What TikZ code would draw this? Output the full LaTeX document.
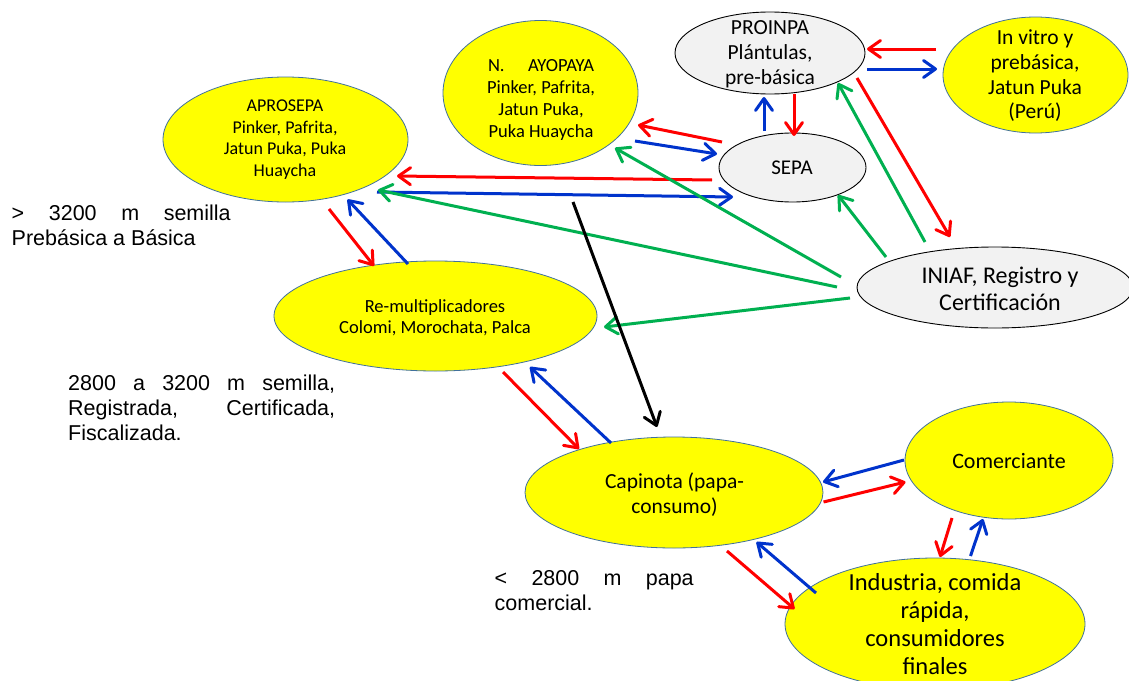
\documentclass[tikz,border=0pt]{standalone}
\usepackage{fontspec}
\setmainfont{Carlito}
\newfontfamily\arialf{Liberation Sans}
\usetikzlibrary{shapes.geometric,arrows.meta,calc}
\definecolor{yel}{RGB}{255,255,0}
\definecolor{edgeb}{RGB}{65,113,156}
\definecolor{grayf}{RGB}{242,242,242}
\definecolor{rd}{RGB}{255,0,0}
\definecolor{bl}{RGB}{0,51,204}
\definecolor{gr}{RGB}{0,176,80}
\tikzset{
  yell/.style={ellipse,draw=edgeb,line width=0.8pt,fill=yel,inner sep=0pt},
  grayell/.style={ellipse,draw=black,line width=0.9pt,fill=grayf,inner sep=0pt},
  lbl/.style={align=center,inner sep=0pt,text=black},
  side/.style={align=left,inner sep=0pt,anchor=west,text=black,font=\arialf\fontsize{21.5}{25}\selectfont},
  arr/.style={line width=3pt,-{Straight Barb[length=12pt,width=17pt,round]}},
  ra/.style={arr,draw=rd},
  ba/.style={arr,draw=bl},
  ga/.style={arr,draw=gr},
  ka/.style={arr,draw=black},
}
\newcommand{\fs}[2]{\fontsize{#1}{#2}\selectfont}
\begin{document}
\begin{tikzpicture}[x=1pt,y=-1pt]
\useasboundingbox (0,0) rectangle (1129,680);
\fill[white] (0,0) rectangle (1129,680);
\clip (0,0) rectangle (1129,680);

% ellipses
\node[yell,minimum width=245pt,minimum height=125pt] (apro) at (285.5,139.5) {};
\node[yell,minimum width=195pt,minimum height=145pt] (ayo) at (540.5,93) {};
\node[grayell,minimum width=190pt,minimum height=82pt] (pro) at (770,53) {};
\node[yell,minimum width=185pt,minimum height=116pt] (vit) at (1035.5,75) {};
\node[grayell,minimum width=147pt,minimum height=69pt] (sepa) at (792.5,167.5) {};
\node[grayell,minimum width=276pt,minimum height=81pt] (ini) at (995,287.5) {};
\node[yell,minimum width=323pt,minimum height=110pt] (remu) at (435.5,316) {};
\node[yell,minimum width=298pt,minimum height=111pt] (capi) at (674,492.5) {};
\node[yell,minimum width=208pt,minimum height=117pt] (come) at (1009,460.5) {};
\node[yell,minimum width=300pt,minimum height=132pt] (indu) at (935,624) {};

% texts
\node[lbl,font=\fs{18}{21.6}] (aprot) at (285,139.5) {APROSEPA\\Pinker, Pafrita,\\Jatun Puka, Puka\\Huaycha};
\node[lbl,font=\fs{18.5}{22}] (ayot) at (541,100) {\makebox[106pt][s]{N. AYOPAYA}\\Pinker, Pafrita,\\Jatun Puka,\\Puka Huaycha};
\node[lbl,font=\fs{21.5}{25}] (prot) at (770,54) {PROINPA\\Plántulas,\\pre-básica};
\node[lbl,font=\fs{21.5}{24.7}] (vitt) at (1035,76) {In vitro y\\prebásica,\\Jatun Puka\\(Perú)};
\node[lbl,font=\fs{21}{25}] (sepat) at (792,168) {SEPA};
\node[lbl,font=\fs{24}{27}] (init) at (1000,288.5) {INIAF, Registro y\\Certificación};
\node[lbl,font=\fs{18.5}{21}] (remut) at (435,317.5) {Re-multiplicadores\\Colomi, Morochata, Palca};
\node[lbl,font=\fs{21.5}{25}] (capit) at (674.5,494.5) {Capinota (papa-\\consumo)};
\node[lbl,font=\fs{22}{25}] (comet) at (1009,461) {Comerciante};
\node[lbl,font=\fs{24.5}{28}] (indut) at (935,624) {Industria, comida\\rápida,\\consumidores\\finales};

\node[side] (s1) at (11.5,225) {\makebox[219pt][s]{> 3200 m semilla}\\Prebásica a Básica};
\node[side] (s2) at (68,407.5) {\makebox[267pt][s]{2800 a 3200 m semilla,}\\\makebox[267pt][s]{Registrada, Certificada,}\\Fiscalizada.};
\node[side] (s3) at (494.5,590.5) {\makebox[199pt][s]{< 2800 m papa}\\comercial.};

% arrows
\draw[ra] ($(sepa)+(-80.5,12.5)$) -- ($(apro)+(111.5,36.5)$);
\draw[ba] ($(apro)+(91.5,52.5)$) -- ($(sepa)+(-59.5,29.5)$);
\draw[ga] ($(ini)+(-158,-0.5)$) -- ($(apro)+(92.5,50.5)$);
\draw[ga] ($(ini)+(-154,-10.5)$) -- ($(ayo)+(74.5,55)$);
\draw[ga] ($(ini)+(-145,10.5)$) -- ($(remu)+(168.5,11)$);
\draw[ga] ($(ini)+(-109,-30.5)$) -- ($(sepa)+(45.5,27.5)$);
\draw[ga] ($(ini)+(-70,-45.5)$) -- ($(pro)+(68,30)$);
\draw[ra] ($(pro)+(87,25)$) -- ($(ini)+(-45,-50.5)$);
\draw[ra] ($(vit)+(-99.5,-26)$) -- ($(pro)+(97,-4)$);
\draw[ba] ($(pro)+(97,16)$) -- ($(vit)+(-98.5,-6)$);
\draw[ba] ($(sepa)+(-28.5,-36.5)$) -- ($(pro)+(-6,44)$);
\draw[ra] ($(pro)+(24,41)$) -- ($(sepa)+(1.5,-31.5)$);
\draw[ra] ($(sepa)+(-70.5,-25.5)$) -- ($(ayo)+(97.5,32)$);
\draw[ba] ($(ayo)+(94.5,48)$) -- ($(sepa)+(-75.5,-13.5)$);
\draw[ra] ($(apro)+(43.5,69.5)$) -- ($(remu)+(-61.5,-50)$);
\draw[ba] ($(remu)+(-27.5,-52)$) -- ($(apro)+(62,60)$);
\draw[ra] ($(remu)+(67.5,56)$) -- ($(capi)+(-95,-43.5)$);
\draw[ba] ($(capi)+(-63,-49.5)$) -- ($(remu)+(94.5,51)$);
\draw[ka] ($(ayo)+(32.5,109)$) -- ($(capi)+(-17,-65.5)$);
\draw[ba] ($(come)+(-105,-0.5)$) -- ($(capi)+(149,-10.5)$);
\draw[ra] ($(capi)+(149.5,9.5)$) -- ($(come)+(-103.5,21.5)$);
\draw[ra] ($(come)+(-57,57.5)$) -- ($(indu)+(5,-67)$);
\draw[ba] ($(indu)+(35.5,-68)$) -- ($(come)+(-26,58.5)$);
\draw[ra] ($(capi)+(53,58.5)$) -- ($(indu)+(-140.5,-15)$);
\draw[ba] ($(indu)+(-119,-31)$) -- ($(capi)+(82.5,49.5)$);
\end{tikzpicture}
\end{document}
